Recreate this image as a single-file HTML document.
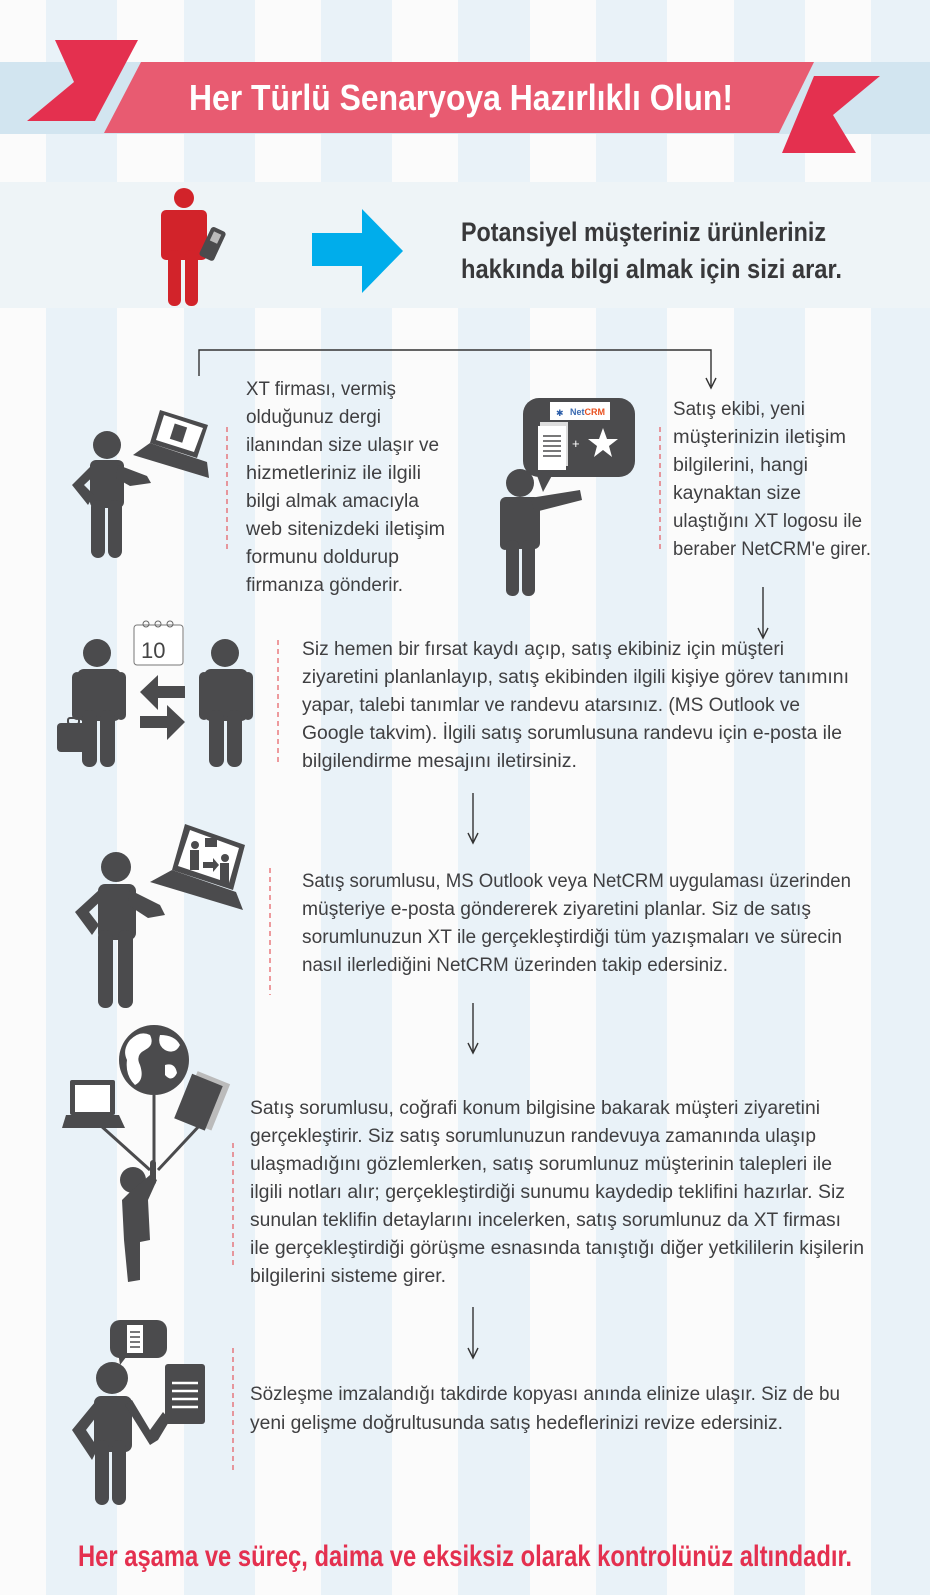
<!DOCTYPE html>
<html><head><meta charset="utf-8"><style>
html,body{margin:0;padding:0;background:#fbfbfb;}
svg{display:block;}
.t{font-family:"Liberation Sans",sans-serif;font-size:19px;fill:#3f3f41;}
.h{font-family:"Liberation Sans",sans-serif;font-weight:bold;}
</style></head><body>
<svg width="930" height="1595" viewBox="0 0 930 1595" xmlns="http://www.w3.org/2000/svg">
<rect width="930" height="1595" fill="#fbfbfb"/>
<g fill="#e9f2f8">
<rect x="46" y="0" width="71" height="1595"/><rect x="184" y="0" width="71" height="1595"/>
<rect x="321" y="0" width="71" height="1595"/><rect x="458" y="0" width="72" height="1595"/>
<rect x="596" y="0" width="71" height="1595"/><rect x="734" y="0" width="71" height="1595"/>
<rect x="871" y="0" width="59" height="1595"/>
</g>
<!-- banner -->
<rect x="0" y="62" width="930" height="72" fill="#d2e5f0"/>
<polygon points="55,40 138,40 95,121 27,121 74,82" fill="#e4304f"/>
<polygon points="814,76 880,76 833,115 856,153 782,153" fill="#e4304f"/>
<polygon points="141,62 814,62 779,133 104,133" fill="#e85b71"/>
<text class="h" x="189" y="110" font-size="36" fill="#fff" textLength="544" lengthAdjust="spacingAndGlyphs">Her Türlü Senaryoya Hazırlıklı Olun!</text>
<!-- grey panel -->
<rect x="0" y="182" width="930" height="126" fill="#eef4f7"/>
<g fill="#d2232a">
<circle cx="184" cy="198" r="10"/>
<rect x="161" y="210" width="46" height="50" rx="5"/>
<rect x="168" y="250" width="13" height="56" rx="6"/><rect x="185" y="250" width="13" height="56" rx="6"/>
</g>
<g transform="rotate(25 213 243)"><rect x="205" y="228" width="16" height="32" rx="3" fill="#4b4b4d"/><rect x="209" y="232" width="8" height="10" fill="#bbb"/></g>
<polygon points="312,233 362,233 362,209 403,251 362,293 362,266 312,266" fill="#00adeb"/>
<text class="h" x="461" y="241" font-size="27" fill="#38383a" textLength="365" lengthAdjust="spacingAndGlyphs">Potansiyel müşteriniz ürünleriniz</text>
<text class="h" x="461" y="278" font-size="27" fill="#38383a" textLength="381" lengthAdjust="spacingAndGlyphs">hakkında bilgi almak için sizi arar.</text>
<!-- connectors -->
<g stroke="#333" stroke-width="1.4" fill="none">
<polyline points="199,376 199,350 711,350 711,386"/>
<polyline points="706,378 711,388 716,378"/>
<line x1="763" y1="587" x2="763" y2="637"/><polyline points="758,628 763,638 768,628"/>
<line x1="473" y1="793" x2="473" y2="842"/><polyline points="468,833 473,843 478,833"/>
<line x1="473" y1="1003" x2="473" y2="1052"/><polyline points="468,1043 473,1053 478,1043"/>
<line x1="473" y1="1307" x2="473" y2="1357"/><polyline points="468,1348 473,1358 478,1348"/>
</g>
<g stroke="#e45a5f" stroke-width="1.2" stroke-dasharray="5,4">
<line x1="227" y1="427" x2="227" y2="552"/><line x1="660" y1="427" x2="660" y2="552"/>
<line x1="278" y1="640" x2="278" y2="765"/><line x1="270" y1="868" x2="270" y2="995"/>
<line x1="233" y1="1143" x2="233" y2="1267"/><line x1="233" y1="1348" x2="233" y2="1472"/>
</g>
<!-- block 1 text -->
<g class="t">
<text x="246" y="395" textLength="150" lengthAdjust="spacingAndGlyphs">XT firması, vermiş</text>
<text x="246" y="423" textLength="135" lengthAdjust="spacingAndGlyphs">olduğunuz dergi</text>
<text x="246" y="451" textLength="193" lengthAdjust="spacingAndGlyphs">ilanından size ulaşır ve</text>
<text x="246" y="479" textLength="175" lengthAdjust="spacingAndGlyphs">hizmetleriniz ile ilgili</text>
<text x="246" y="507" textLength="173" lengthAdjust="spacingAndGlyphs">bilgi almak amacıyla</text>
<text x="246" y="535" textLength="199" lengthAdjust="spacingAndGlyphs">web sitenizdeki iletişim</text>
<text x="246" y="563" textLength="153" lengthAdjust="spacingAndGlyphs">formunu doldurup</text>
<text x="246" y="591" textLength="157" lengthAdjust="spacingAndGlyphs">firmanıza gönderir.</text>
<text x="673" y="415" textLength="132" lengthAdjust="spacingAndGlyphs">Satış ekibi, yeni</text>
<text x="673" y="443" textLength="173" lengthAdjust="spacingAndGlyphs">müşterinizin iletişim</text>
<text x="673" y="471" textLength="135" lengthAdjust="spacingAndGlyphs">bilgilerini, hangi</text>
<text x="673" y="499" textLength="128" lengthAdjust="spacingAndGlyphs">kaynaktan size</text>
<text x="673" y="527" textLength="189" lengthAdjust="spacingAndGlyphs">ulaştığını XT logosu ile</text>
<text x="673" y="555" textLength="198" lengthAdjust="spacingAndGlyphs">beraber NetCRM'e girer.</text>
<text x="302" y="655" textLength="482" lengthAdjust="spacingAndGlyphs">Siz hemen bir fırsat kaydı açıp, satış ekibiniz için müşteri</text>
<text x="302" y="683" textLength="547" lengthAdjust="spacingAndGlyphs">ziyaretini planlanlayıp, satış ekibinden ilgili kişiye görev tanımını</text>
<text x="302" y="711" textLength="498" lengthAdjust="spacingAndGlyphs">yapar, talebi tanımlar ve randevu atarsınız. (MS Outlook ve</text>
<text x="302" y="739" textLength="540" lengthAdjust="spacingAndGlyphs">Google takvim). İlgili satış sorumlusuna randevu için e-posta ile</text>
<text x="302" y="767" textLength="275" lengthAdjust="spacingAndGlyphs">bilgilendirme mesajını iletirsiniz.</text>
<text x="302" y="887" textLength="549" lengthAdjust="spacingAndGlyphs">Satış sorumlusu, MS Outlook veya NetCRM uygulaması üzerinden</text>
<text x="302" y="915" textLength="509" lengthAdjust="spacingAndGlyphs">müşteriye e-posta göndererek ziyaretini planlar. Siz de satış</text>
<text x="302" y="943" textLength="540" lengthAdjust="spacingAndGlyphs">sorumlunuzun XT ile gerçekleştirdiği tüm yazışmaları ve sürecin</text>
<text x="302" y="971" textLength="426" lengthAdjust="spacingAndGlyphs">nasıl ilerlediğini NetCRM üzerinden takip edersiniz.</text>
<text x="250" y="1114" textLength="570" lengthAdjust="spacingAndGlyphs">Satış sorumlusu, coğrafi konum bilgisine bakarak müşteri ziyaretini</text>
<text x="250" y="1142" textLength="566" lengthAdjust="spacingAndGlyphs">gerçekleştirir. Siz satış sorumlunuzun randevuya zamanında ulaşıp</text>
<text x="250" y="1170" textLength="582" lengthAdjust="spacingAndGlyphs">ulaşmadığını gözlemlerken, satış sorumlunuz müşterinin talepleri ile</text>
<text x="250" y="1198" textLength="595" lengthAdjust="spacingAndGlyphs">ilgili notları alır; gerçekleştirdiği sunumu kaydedip teklifini hazırlar. Siz</text>
<text x="250" y="1226" textLength="591" lengthAdjust="spacingAndGlyphs">sunulan teklifin detaylarını incelerken, satış sorumlunuz da XT firması</text>
<text x="250" y="1254" textLength="614" lengthAdjust="spacingAndGlyphs">ile gerçekleştirdiği görüşme esnasında tanıştığı diğer yetkililerin kişilerin</text>
<text x="250" y="1282" textLength="196" lengthAdjust="spacingAndGlyphs">bilgilerini sisteme girer.</text>
<text x="250" y="1400" textLength="590" lengthAdjust="spacingAndGlyphs">Sözleşme imzalandığı takdirde kopyası anında elinize ulaşır. Siz de bu</text>
<text x="250" y="1429" textLength="533" lengthAdjust="spacingAndGlyphs">yeni gelişme doğrultusunda satış hedeflerinizi revize edersiniz.</text>
</g>
<text class="h" x="78" y="1566" font-size="30" fill="#e4304f" textLength="774" lengthAdjust="spacingAndGlyphs">Her aşama ve süreç, daima ve eksiksiz olarak kontrolünüz altındadır.</text>
<!-- icons -->
<g fill="#4b4b4d">
<!-- person 1 with laptop -->
<circle cx="107" cy="445" r="14"/>
<rect x="90" y="460" width="34" height="48" rx="6"/>
<rect x="91" y="500" width="14" height="58" rx="7"/><rect x="108" y="500" width="14" height="58" rx="7"/>
<polygon points="92,465 72,485 88,505 94,495 84,485 98,472"/>
<polygon points="118,465 147,476 151,483 130,486 116,478"/>
<polygon points="160,410 208,425 197,458 150,443"/>
<polygon points="150,443 207,462 209,478 133,455"/>
</g>
<polygon points="164,415 203,428 194,452 156,440" fill="#fff"/>
<rect x="172" y="425" width="13" height="16" fill="#4b4b4d" transform="rotate(18 178 433)"/>
<!-- person 2 with bubble -->
<g fill="#4b4b4d">
<rect x="523" y="398" width="112" height="79" rx="16"/>
<polygon points="535,470 555,470 543,492"/>
<circle cx="520" cy="483" r="14"/>
<rect x="500" y="497" width="40" height="52" rx="6"/>
<polygon points="530,498 580,490 582,500 535,512"/>
<rect x="500" y="500" width="10" height="50" rx="5"/>
<rect x="506" y="540" width="13" height="56" rx="6"/><rect x="522" y="540" width="13" height="56" rx="6"/>
</g>
<rect x="550" y="402" width="60" height="18" fill="#fff"/>
<text x="556" y="416" font-family="Liberation Sans,sans-serif" font-size="9" fill="#2a5ca8">✱</text>
<text x="570" y="415" font-family="Liberation Sans,sans-serif" font-size="9" font-weight="bold" fill="#3a6ab0">Net<tspan fill="#e8501f">CRM</tspan></text>
<rect x="540" y="422" width="28" height="44" fill="#ddd"/><rect x="538" y="426" width="28" height="44" fill="#fff"/>
<g stroke="#4b4b4d" stroke-width="1.5"><line x1="543" y1="436" x2="561" y2="436"/><line x1="543" y1="441" x2="561" y2="441"/><line x1="543" y1="446" x2="561" y2="446"/><line x1="543" y1="451" x2="561" y2="451"/><line x1="543" y1="456" x2="561" y2="456"/></g>
<text x="572" y="448" font-family="Liberation Sans,sans-serif" font-size="13" fill="#fff">+</text>
<polygon points="603,428 607,439 618,439 609,446 612,457 603,450 594,457 597,446 588,439 599,439" fill="#fff"/>
<!-- block 3 two persons -->
<rect x="134" y="625" width="49" height="40" rx="3" fill="#fff" stroke="#777" stroke-width="1"/>
<text x="141" y="658" font-family="Liberation Sans,sans-serif" font-size="22" fill="#444">10</text>
<g stroke="#666" stroke-width="1" fill="none"><circle cx="146" cy="624" r="3"/><circle cx="158" cy="624" r="3"/><circle cx="170" cy="624" r="3"/></g>
<g fill="#4b4b4d">
<circle cx="97" cy="653" r="14"/>
<rect x="77" y="669" width="44" height="52" rx="7"/>
<rect x="72" y="672" width="10" height="48" rx="5"/><rect x="116" y="672" width="10" height="48" rx="5"/>
<rect x="82" y="710" width="15" height="57" rx="7"/><rect x="100" y="710" width="15" height="57" rx="7"/>
<circle cx="225" cy="653" r="14"/>
<rect x="204" y="669" width="44" height="52" rx="7"/>
<rect x="199" y="672" width="10" height="48" rx="5"/><rect x="243" y="672" width="10" height="48" rx="5"/>
<rect x="209" y="710" width="15" height="57" rx="7"/><rect x="227" y="710" width="15" height="57" rx="7"/>
<polygon points="140,692 158,675 158,686 185,686 185,698 158,698 158,710"/>
<polygon points="185,722 167,705 167,716 140,716 140,728 167,728 167,740"/>
<rect x="57" y="723" width="33" height="29" rx="4"/>
</g>
<rect x="68" y="718" width="11" height="6" rx="2" fill="none" stroke="#4b4b4d" stroke-width="2"/>
<!-- block 4 person with laptop -->
<g fill="#4b4b4d">
<circle cx="116" cy="867" r="15"/>
<rect x="98" y="884" width="38" height="56" rx="7"/>
<rect x="98" y="930" width="15" height="78" rx="7"/><rect x="118" y="930" width="15" height="78" rx="7"/>
<polygon points="99,890 75,912 92,935 99,925 89,912 104,898"/>
<polygon points="130,890 160,905 165,915 148,918 128,905"/>
<polygon points="185,824 245,845 233,890 172,870"/>
<polygon points="172,870 236,892 243,910 150,882"/>
</g>
<polygon points="190,830 239,848 229,883 178,866" fill="#fff"/>
<g fill="#4b4b4d"><circle cx="195" cy="845" r="4"/><rect x="190" y="850" width="9" height="20"/><circle cx="225" cy="858" r="4"/><rect x="220" y="863" width="9" height="20"/><polygon points="203,862 213,862 213,858 219,865 213,872 213,868 203,868"/><rect x="205" y="838" width="12" height="9"/></g>
<!-- block 5 globe balloon -->
<circle cx="154" cy="1060" r="35" fill="#4b4b4d"/>
<path d="M130,1040 q10,-10 20,-5 q5,10 -5,15 q-10,5 -5,15 q5,15 -5,20 q-10,-10 -8,-25 q-5,-10 3,-20z M160,1035 q15,0 20,10 q-5,10 -15,5 q-8,-5 -5,-15z M165,1065 q10,-3 12,8 q-5,10 -12,2z" fill="#fff"/>
<g stroke="#4b4b4d" stroke-width="3" fill="none">
<line x1="154" y1="1095" x2="154" y2="1170"/>
<line x1="100" y1="1125" x2="150" y2="1170"/>
<line x1="200" y1="1125" x2="158" y2="1170"/>
</g>
<g fill="#4b4b4d">
<rect x="70" y="1080" width="45" height="35" rx="2"/>
<polygon points="66,1115 119,1115 125,1128 62,1128"/>
</g>
<rect x="75" y="1085" width="35" height="27" fill="#fff"/>
<rect x="187" y="1076" width="35" height="50" fill="#bbb" transform="rotate(22 205 1101)"/>
<rect x="182" y="1078" width="33" height="48" fill="#4b4b4d" transform="rotate(22 198 1102)"/>
<g fill="#4b4b4d">
<circle cx="133" cy="1180" r="13"/>
<polygon points="130,1192 150,1175 157,1180 148,1200 150,1240 140,1242 140,1280 128,1282 124,1240 122,1200"/>
<rect x="150" y="1160" width="6" height="25" rx="3"/>
</g>
<!-- block 6 -->
<g fill="#4b4b4d">
<rect x="110" y="1320" width="57" height="38" rx="10"/>
<polygon points="118,1352 130,1352 120,1365"/>
<circle cx="112" cy="1378" r="16"/>
<rect x="94" y="1396" width="38" height="56" rx="7"/>
<rect x="95" y="1440" width="14" height="65" rx="7"/><rect x="112" y="1440" width="14" height="65" rx="7"/>
<polygon points="95,1402 72,1430 92,1460 98,1448 86,1430 100,1412"/>
<polygon points="125,1405 150,1445 158,1440 170,1420 163,1412 150,1430 132,1400"/>
<rect x="165" y="1364" width="40" height="60" rx="3"/>
</g>
<rect x="127" y="1325" width="16" height="28" fill="#fff"/>
<g stroke="#4b4b4d" stroke-width="1.5"><line x1="130" y1="1332" x2="140" y2="1332"/><line x1="130" y1="1337" x2="140" y2="1337"/><line x1="130" y1="1342" x2="140" y2="1342"/><line x1="130" y1="1347" x2="140" y2="1347"/></g>
<g stroke="#fff" stroke-width="2.5"><line x1="172" y1="1383" x2="198" y2="1383"/><line x1="172" y1="1391" x2="198" y2="1391"/><line x1="172" y1="1399" x2="198" y2="1399"/><line x1="172" y1="1407" x2="198" y2="1407"/></g>
</svg>
</body></html>
